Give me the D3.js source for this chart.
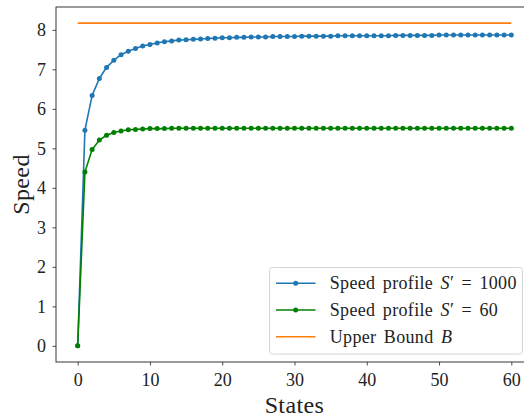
<!DOCTYPE html>
<html><head><meta charset="utf-8">
<script src="https://cdn.jsdelivr.net/npm/d3@7"></script>
<style>body{margin:0;background:#fff}svg{display:block}text{font-family:"Liberation Serif","DejaVu Serif",serif;fill:#222}</style>
</head><body><svg id="c" width="524" height="417"></svg>
<script>
const states = d3.range(0, 61);
const speed1000 = [0,5.46,6.34,6.77,7.05,7.23,7.37,7.46,7.53,7.59,7.63,7.67,7.70,7.72,7.74,7.75,7.76,7.77,7.78,7.79,7.80,7.80,7.81,7.81,7.82,7.82,7.82,7.83,7.83,7.83,7.83,7.84,7.84,7.84,7.84,7.84,7.85,7.85,7.85,7.85,7.85,7.85,7.85,7.85,7.86,7.86,7.86,7.86,7.86,7.86,7.87,7.87,7.87,7.87,7.87,7.87,7.87,7.87,7.87,7.87,7.87];
const speed60 = [0,4.40,4.97,5.21,5.33,5.40,5.44,5.47,5.48,5.49,5.50,5.50,5.50,5.51,5.51,5.51,5.51,5.51,5.51,5.51,5.51,5.51,5.51,5.51,5.51,5.51,5.51,5.51,5.51,5.51,5.51,5.51,5.51,5.51,5.51,5.51,5.51,5.51,5.51,5.51,5.51,5.51,5.51,5.51,5.51,5.51,5.51,5.51,5.51,5.51,5.51,5.51,5.51,5.51,5.51,5.51,5.51,5.51,5.51,5.51,5.51];
const upperBound = 8.17;
const xTicks = [0,10,20,30,40,50,60];
const yTicks = [0,1,2,3,4,5,6,7,8];
const legendLabels = ["Speed profile S′ = 1000","Speed profile S′ = 60","Upper Bound B"];
const colors = ["#1f77b4","#008000","#ff7f0e"];

const svg = d3.select("#c");
const L=56, R=533, T=7, B=362;
const x = d3.scaleLinear().domain([-3,63]).range([L,R]);
const y = d3.scaleLinear().domain([-0.4085,8.5785]).range([B,T]);

// series
const line = d3.line().x((d,i)=>x(states[i])).y(d=>y(d));
[[speed1000,colors[0]],[speed60,colors[1]]].forEach(([data,c])=>{
  svg.append("path").attr("d",line(data)).attr("fill","none").attr("stroke",c).attr("stroke-width",1.6);
  svg.append("g").selectAll("circle").data(data).join("circle")
    .attr("cx",(d,i)=>x(states[i])).attr("cy",d=>y(d)).attr("r",2.5).attr("fill",c);
});
svg.append("line").attr("x1",x(0)).attr("x2",x(60)).attr("y1",y(upperBound)).attr("y2",y(upperBound))
  .attr("stroke",colors[2]).attr("stroke-width",1.6);

// axes
const xa = svg.append("g").attr("transform",`translate(0,${B})`)
  .call(d3.axisBottom(x).tickValues(xTicks).tickSize(3.5).tickPadding(7.5).tickSizeOuter(0));
const ya = svg.append("g").attr("transform",`translate(${L},0)`)
  .call(d3.axisLeft(y).tickValues(yTicks).tickSize(3.5).tickPadding(6.5).tickSizeOuter(0));
[xa,ya].forEach(a=>{
  a.select(".domain").remove();
  a.selectAll("line").attr("stroke","#222").attr("stroke-width",0.8);
  a.selectAll("text").attr("font-size",18).attr("font-family","Liberation Serif").attr("fill","#222");
});
svg.append("rect").attr("x",L).attr("y",T).attr("width",R-L).attr("height",B-T)
  .attr("fill","none").attr("stroke","#222").attr("stroke-width",0.9);

svg.append("text").attr("x",(L+R)/2).attr("y",413).attr("text-anchor","middle").attr("font-size",24).attr("letter-spacing",0.4).text("States");
svg.append("text").attr("transform",`translate(29,${(T+B)/2}) rotate(-90)`).attr("text-anchor","middle").attr("font-size",24).attr("letter-spacing",0.4).text("Speed");

// legend
const lg = svg.append("g");
lg.append("rect").attr("x",269.5).attr("y",267.5).attr("width",253).attr("height",86.5).attr("rx",3)
  .attr("fill","#fff").attr("fill-opacity",0.8).attr("stroke","#d0d0d0").attr("stroke-width",0.9);
const rowsY=[283.3,310,336.7];
legendLabels.forEach((lab,i)=>{
  lg.append("line").attr("x1",276).attr("x2",315.5).attr("y1",rowsY[i]).attr("y2",rowsY[i]).attr("stroke",colors[i]).attr("stroke-width",1.6);
  if(i<2) lg.append("circle").attr("cx",295.7).attr("cy",rowsY[i]).attr("r",2.5).attr("fill",colors[i]);
  const t = lg.append("text").attr("x",329.7).attr("y",rowsY[i]+6).attr("font-size",18)
    .attr("letter-spacing",0.35).attr("word-spacing",2.5);
  if(i<2){
    t.append("tspan").text("Speed profile ");
    t.append("tspan").attr("font-style","italic").text("S");
    t.append("tspan").text(i==0?"′ = 1000":"′ = 60");
  } else {
    t.append("tspan").text("Upper Bound ");
    t.append("tspan").attr("font-style","italic").text("B");
  }
});
</script></body></html>
